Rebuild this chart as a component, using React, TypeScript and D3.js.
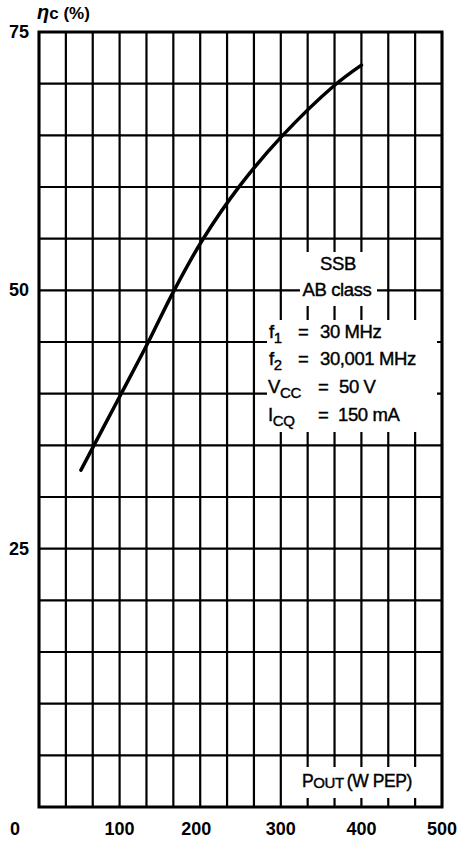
import * as d3 from 'd3';

// Efficiency vs output power
const POUT = [52, 100, 135, 167, 203, 250, 300, 366, 400];
const ETA = [32.6, 39.7, 44.9, 49.9, 54.9, 60.2, 64.8, 69.8, 71.8];
const X_TICKS = [0, 100, 200, 300, 400, 500];
const Y_TICKS = [25, 50, 75];
const X_GRID = d3.range(0, 16).map(i => (i * 500) / 15);
const Y_GRID = d3.range(0, 16).map(i => i * 5);

const VW = 457, VH = 841;
const M = { top: 32, left: 39, right: 15, bottom: 34 };
const FONT = '"Liberation Sans", Arial, Helvetica, sans-serif';

export default function App() {
  const x = d3.scaleLinear().domain([0, 500]).range([M.left, VW - M.right]);
  const y = d3.scaleLinear().domain([0, 75]).range([VH - M.bottom, M.top]);
  const line = d3.line<number>().x((_, i) => x(POUT[i])).y(v => y(v)).curve(d3.curveCatmullRom.alpha(0.5));
  const [x0, x1] = x.range();
  const [y0, y1] = y.range();

  return (
    <svg width={VW} height={VH} viewBox={`0 0 ${VW} ${VH}`}
      style={{ position: 'absolute', left: 0, top: 0, background: '#fff' }}
      fontFamily={FONT}>
      <rect x={0} y={0} width={VW} height={VH} fill="#fff" />
      {/* grid */}
      {X_GRID.map(d => (
        <line key={'vx' + d} x1={x(d)} x2={x(d)} y1={y0} y2={y1} stroke="#000" strokeWidth={2.2} />
      ))}
      {Y_GRID.map(d => (
        <line key={'hy' + d} x1={x0} x2={x1} y1={y(d)} y2={y(d)} stroke="#000" strokeWidth={2.2} />
      ))}

      {/* white masks behind the annotations */}
      <rect x={300} y={252} width={77} height={54} fill="#fff" />
      <rect x={267} y={320} width={170} height={112} fill="#fff" />
      <rect x={299} y={767} width={136} height={31} fill="#fff" />

      {/* frame */}
      <rect x={x0} y={y1} width={x1 - x0} height={y0 - y1} fill="none" stroke="#000" strokeWidth={3} />

      {/* curve */}
      <path d={line(ETA) ?? ''} fill="none" stroke="#000" strokeWidth={3.5}
        strokeLinecap="round" strokeLinejoin="round" />

      {/* y tick labels */}
      {Y_TICKS.map(d => (
        <text key={'yl' + d} x={29} y={y(d)} textAnchor="end" dominantBaseline="central"
          fontSize={18} fontWeight="bold">{d}</text>
      ))}
      {/* x tick labels */}
      {X_TICKS.map(d => (
        <text key={'xl' + d} x={x(d) + (d === 0 ? -24 : d === 200 ? -4 : 0)} y={835}
          textAnchor="middle" fontSize={18} fontWeight="bold">{d}</text>
      ))}

      {/* axis titles */}
      <text x={37} y={19} fontSize={17} fontWeight="bold">
        <tspan fontStyle="italic" fontSize={20}>η</tspan>
        <tspan>c (%)</tspan>
      </text>
      <text x={302} y={787} fontSize={17.5} letterSpacing={-0.4} stroke="#000" strokeWidth={0.4}>
        <tspan>P</tspan>
        <tspan fontSize={15} dy={1}>OUT</tspan>
        <tspan dy={-1} dx={3}>(W PEP)</tspan>
      </text>

      {/* conditions */}
      <g fontSize={18.5} letterSpacing={-0.4} stroke="#000" strokeWidth={0.4}>
        <text x={338} y={270} textAnchor="middle">SSB</text>
        <text x={337} y={296} textAnchor="middle">AB class</text>
        <text x={269} y={338}>f<tspan fontSize={15} dy={5}>1</tspan></text>
        <text x={298} y={338}>=</text>
        <text x={320} y={338}>30 MHz</text>
        <text x={269} y={365}>f<tspan fontSize={15} dy={5}>2</tspan></text>
        <text x={298} y={365}>=</text>
        <text x={320} y={365}>30,001 MHz</text>
        <text x={268} y={393}>V<tspan fontSize={15} dy={5}>CC</tspan></text>
        <text x={318} y={393}>=</text>
        <text x={339} y={393}>50 V</text>
        <text x={268} y={421}>I<tspan fontSize={15} dy={5}>CQ</tspan></text>
        <text x={318} y={421}>=</text>
        <text x={338} y={421}>150 mA</text>
      </g>
    </svg>
  );
}
